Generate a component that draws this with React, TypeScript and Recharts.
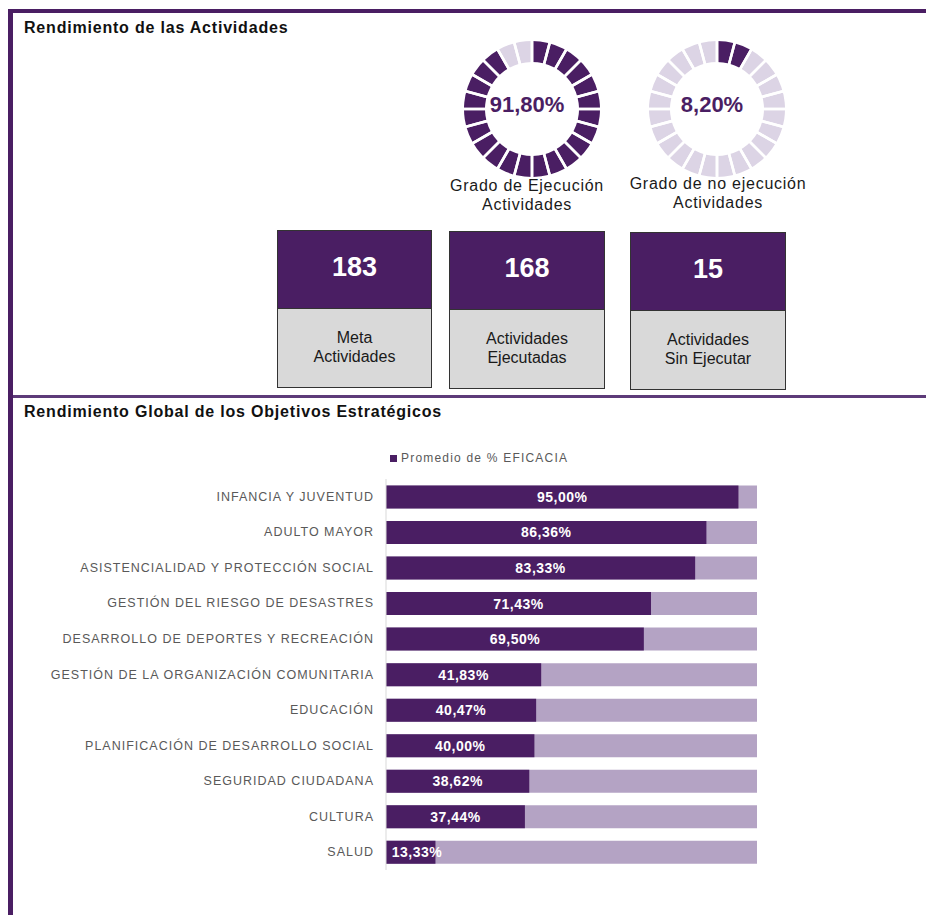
import React from 'react';
import { BarChart, Bar, XAxis, YAxis, LabelList, Legend, PieChart, Pie, Cell } from 'recharts';

// colores del tablero
const PURPLE = '#4a1e63';
const LIGHT_RING = '#dcd4e5';
const LIGHT_BAR = '#b4a3c4';
const FONT = "'Liberation Sans', Arial, sans-serif";

// resumen de actividades
const resumenValores = [183, 168, 15];
const resumenEtiquetas = [
  ['Meta', 'Actividades'],
  ['Actividades', 'Ejecutadas'],
  ['Actividades', 'Sin Ejecutar'],
];

// rendimiento por objetivo estrategico
const objetivos = [
  'INFANCIA Y JUVENTUD',
  'ADULTO MAYOR',
  'ASISTENCIALIDAD Y PROTECCIÓN SOCIAL',
  'GESTIÓN DEL RIESGO DE DESASTRES',
  'DESARROLLO DE DEPORTES Y RECREACIÓN',
  'GESTIÓN DE LA ORGANIZACIÓN COMUNITARIA',
  'EDUCACIÓN',
  'PLANIFICACIÓN DE DESARROLLO SOCIAL',
  'SEGURIDAD CIUDADANA',
  'CULTURA',
  'SALUD',
];
const eficacia = [95.0, 86.36, 83.33, 71.43, 69.5, 41.83, 40.47, 40.0, 38.62, 37.44, 13.33];

const barData = objetivos.map((name, i) => ({ name, value: eficacia[i] }));
const bandTicks = [...objetivos.map((_, i) => i), objetivos.length];

const RING_SEGMENTS = 24;
const ringSegments = Array.from({ length: RING_SEGMENTS }, () => ({ value: 1 }));

const pct = (v: number) => v.toFixed(2).replace('.', ',') + '%';

const Donut = ({ cx, cy, data, colors }: any) => {
  const total = data[0].value + data[1].value;
  return (
    <>
      <div style={{ position: 'absolute', left: cx - 80, top: cy - 80 }}>
        <PieChart width={160} height={160}>
          <Pie
            data={data}
            dataKey="value"
            cx={80}
            cy={80}
            innerRadius={47}
            outerRadius={68}
            startAngle={90}
            endAngle={-270}
            stroke="none"
            isAnimationActive={false}
          >
            {data.map((_: any, i: number) => (
              <Cell key={i} fill={colors[i]} />
            ))}
          </Pie>
          <Pie
            data={ringSegments}
            dataKey="value"
            cx={80}
            cy={80}
            innerRadius={43}
            outerRadius={72}
            startAngle={90}
            endAngle={-270}
            fill="none"
            stroke="#ffffff"
            strokeWidth={2.6}
            isAnimationActive={false}
          />
        </PieChart>
      </div>
      <div
        style={{
          position: 'absolute',
          left: cx - 60,
          width: 120,
          top: cy - 12,
          textAlign: 'center',
          fontSize: 22,
          fontWeight: 'bold',
          color: PURPLE,
          lineHeight: '26px',
        }}
      >
        {pct((data[0].value / total) * 100)}
      </div>
    </>
  );
};

const Caption = ({ cx, top, lines }: any) => (
  <div
    style={{
      position: 'absolute',
      left: cx - 100,
      width: 200,
      top,
      textAlign: 'center',
      fontSize: 16,
      letterSpacing: 0.75,
      lineHeight: '19px',
      color: '#1a1a1a',
    }}
  >
    {lines[0]}
    <br />
    {lines[1]}
  </div>
);

const KpiBox = ({ left, top, width, value, lines }: any) => (
  <div
    style={{
      position: 'absolute',
      left,
      top,
      width,
      height: 158,
      boxSizing: 'border-box',
      border: '1.5px solid #333',
      background: '#d9d9d9',
    }}
  >
    <div
      style={{
        height: 77,
        background: PURPLE,
        borderBottom: '1.5px solid #333',
        color: '#fff',
        fontWeight: 'bold',
        fontSize: 27,
        textAlign: 'center',
        lineHeight: '72px',
      }}
    >
      {value}
    </div>
    <div
      style={{
        textAlign: 'center',
        fontSize: 16,
        lineHeight: '19px',
        paddingTop: 19,
        color: '#1a1a1a',
      }}
    >
      {lines[0]}
      <br />
      {lines[1]}
    </div>
  </div>
);

const CategoryTick = ({ x, y, payload }: any) => (
  <text
    x={x}
    y={y}
    dy={4}
    textAnchor="end"
    fill="#595959"
    fontSize={12.5}
    letterSpacing={1}
    fontFamily={FONT}
  >
    {payload.value}
  </text>
);

const ValueLabel = ({ x, y, width, height, value }: any) => {
  const w = 52;
  const cx = Math.max(x + width / 2, x + 5 + w / 2);
  return (
    <text
      x={cx}
      y={y + height / 2}
      dy={5}
      textAnchor="middle"
      fill="#ffffff"
      fontWeight="bold"
      fontSize={14}
      letterSpacing={0.5}
      fontFamily={FONT}
    >
      {pct(value)}
    </text>
  );
};

const LegendBox = () => (
  <div style={{ display: 'flex', alignItems: 'center', fontSize: 12, letterSpacing: 1.2, color: '#595959', fontFamily: FONT }}>
    <span style={{ width: 7, height: 7, background: PURPLE, marginRight: 4, display: 'inline-block' }} />
    Promedio de % EFICACIA
  </div>
);

const App = () => {
  const [meta, ejecutadas, sinEjecutar] = resumenValores;
  const ejecucion = [{ value: ejecutadas }, { value: sinEjecutar }];
  const noEjecucion = [{ value: sinEjecutar }, { value: ejecutadas }];

  return (
    <div
      style={{
        position: 'absolute',
        left: 0,
        top: 0,
        width: 926,
        height: 915,
        overflow: 'hidden',
        background: '#fff',
        fontFamily: FONT,
      }}
    >
      {/* marco */}
      <div style={{ position: 'absolute', left: 8, top: 9, width: 918, height: 4, background: PURPLE }} />
      <div style={{ position: 'absolute', left: 8, top: 9, width: 5, height: 906, background: PURPLE }} />
      <div style={{ position: 'absolute', left: 13, top: 395, width: 913, height: 3, background: '#5d3b79' }} />

      <div style={{ position: 'absolute', left: 24, top: 19, fontSize: 16, fontWeight: 'bold', letterSpacing: 0.8, color: '#111' }}>
        Rendimiento de las Actividades
      </div>
      <div style={{ position: 'absolute', left: 24, top: 403, fontSize: 16, fontWeight: 'bold', letterSpacing: 0.8, color: '#111' }}>
        Rendimiento Global de los Objetivos Estratégicos
      </div>

      <Donut cx={527} cy={104} data={ejecucion} colors={[PURPLE, LIGHT_RING]} />
      <Donut cx={712} cy={104} data={noEjecucion} colors={[PURPLE, LIGHT_RING]} />
      <Caption cx={527} top={176} lines={['Grado de Ejecución', 'Actividades']} />
      <Caption cx={718} top={174} lines={['Grado de no ejecución', 'Actividades']} />

      <KpiBox left={277} top={230} width={155} value={meta} lines={resumenEtiquetas[0]} />
      <KpiBox left={449} top={231} width={156} value={ejecutadas} lines={resumenEtiquetas[1]} />
      <KpiBox left={630} top={232} width={156} value={sinEjecutar} lines={resumenEtiquetas[2]} />

      <div style={{ position: 'absolute', left: 0, top: 440 }}>
        <BarChart
          layout="vertical"
          width={926}
          height={460}
          data={barData}
          margin={{ top: 39, right: 169, bottom: 30, left: 0 }}
          barCategoryGap="18%"
        >
          <XAxis type="number" domain={[0, 100]} hide />
          <YAxis
            yAxisId="bounds"
            type="number"
            domain={[0, objetivos.length]}
            ticks={bandTicks}
            width={1}
            tick={false}
            tickSize={5}
            axisLine={{ stroke: '#d9d9d9' }}
            tickLine={{ stroke: '#d9d9d9' }}
          />
          <YAxis
            yAxisId="cat"
            type="category"
            dataKey="name"
            width={385}
            axisLine={false}
            tickLine={false}
            tickSize={0}
            tickMargin={11}
            tick={<CategoryTick />}
            interval={0}
          />
          <Legend
            layout="horizontal"
            verticalAlign="middle"
            align="center"
            wrapperStyle={{ top: 11, left: 390, width: 240 }}
            content={<LegendBox />}
          />
          <Bar
            yAxisId="cat"
            dataKey="value"
            fill={PURPLE}
            background={{ fill: LIGHT_BAR }}
            isAnimationActive={false}
          >
            <LabelList dataKey="value" content={<ValueLabel />} />
          </Bar>
        </BarChart>
      </div>
    </div>
  );
};

export default App;
